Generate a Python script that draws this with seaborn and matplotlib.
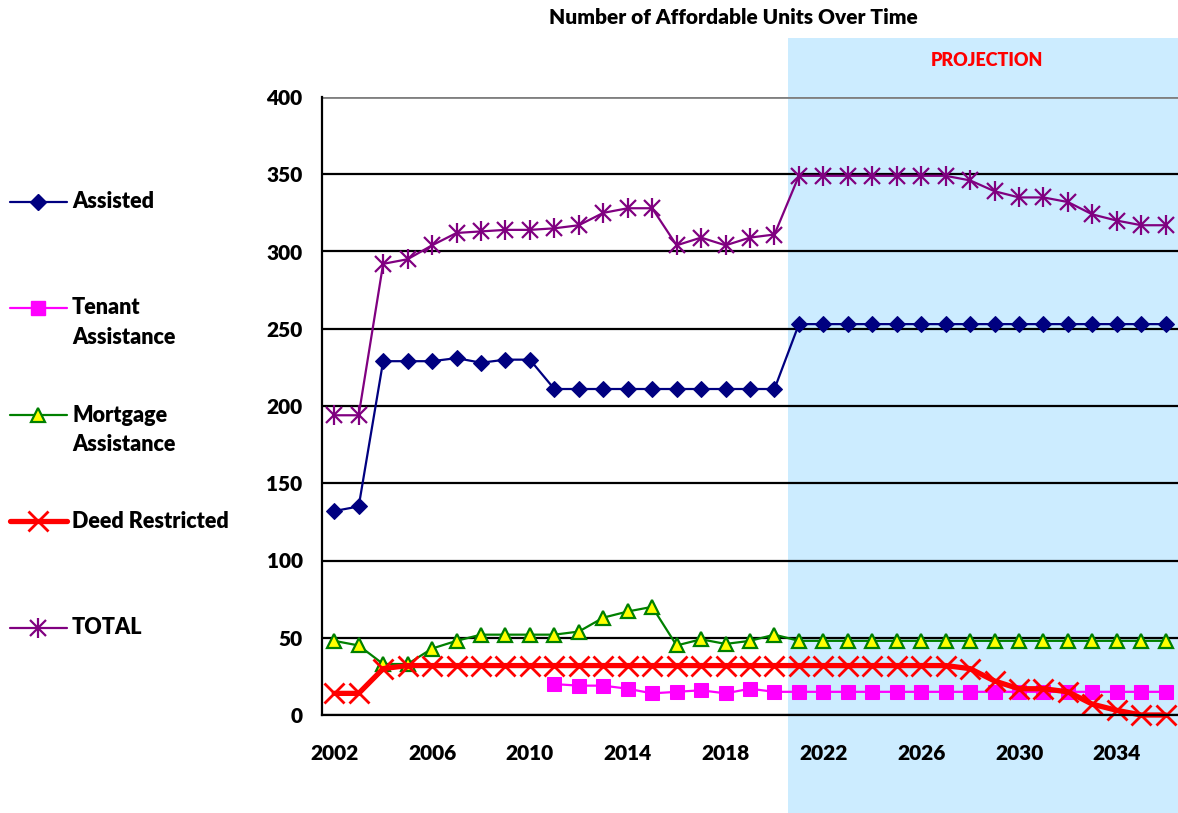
"""
Number of Affordable Units Over Time - line chart with projection band.
"""

import numpy as np
import pandas as pd
import seaborn as sns
import matplotlib.pyplot as plt
from matplotlib.lines import Line2D

years = list(range(2002, 2037))

assisted = [132, 135, 229, 229, 229, 231, 228, 230, 230, 211,
            211, 211, 211, 211, 211, 211, 211, 211, 211, 253,
            253, 253, 253, 253, 253, 253, 253, 253, 253, 253,
            253, 253, 253, 253, 253]
tenant = [np.nan, np.nan, np.nan, np.nan, np.nan, np.nan, np.nan, np.nan, np.nan, 20,
          19, 19, 17, 14, 15, 16, 14, 17, 15, 15,
          15, 15, 15, 15, 15, 15, 15, 15, 15, 15,
          15, 15, 15, 15, 15]
mortgage = [48, 45, 33, 33, 43, 48, 52, 52, 52, 52,
            54, 63, 67, 70, 45, 49, 46, 48, 52, 48,
            48, 48, 48, 48, 48, 48, 48, 48, 48, 48,
            48, 48, 48, 48, 48]
deed = [14, 14, 30, 32, 32, 32, 32, 32, 32, 32,
        32, 32, 32, 32, 32, 32, 32, 32, 32, 32,
        32, 32, 32, 32, 32, 32, 30, 22, 17, 17,
        15, 7, 3, 0, 0]
total = [194, 194, 292, 295, 304, 312, 313, 314, 314, 315,
         317, 325, 328, 328, 304, 309, 304, 309, 311, 349,
         349, 349, 349, 349, 349, 349, 346, 339, 335, 335,
         332, 324, 320, 317, 317]

series_names = ["Assisted", "Tenant Assistance", "Mortgage Assistance", "Deed Restricted", "TOTAL"]
legend_labels = ["Assisted", "Tenant\nAssistance", "Mortgage\nAssistance", "Deed Restricted", "TOTAL"]
projection_start = 2021
yticks = [0, 50, 100, 150, 200, 250, 300, 350, 400]
xtick_years = [2002, 2006, 2010, 2014, 2018, 2022, 2026, 2030, 2034]

df = pd.DataFrame({
    "year": years,
    "Assisted": assisted,
    "Tenant Assistance": tenant,
    "Mortgage Assistance": mortgage,
    "Deed Restricted": deed,
    "TOTAL": total,
})
df["pos"] = np.arange(len(df))

styles = {
    "Assisted": dict(color="#000080", lw=1.6, marker="D", ms=8.5, mfc="#000080", mec="#000080"),
    "Tenant Assistance": dict(color="#FF00FF", lw=1.6, marker="s", ms=10, mfc="#FF00FF", mec="#FF00FF"),
    "Mortgage Assistance": dict(color="#008000", lw=1.6, marker="^", ms=10, mfc="#FFFF00", mec="#008000", mew=1.6),
    "Deed Restricted": dict(color="#FF0000", lw=3.8, marker="x", ms=14, mec="#FF0000", mew=2.0),
    "TOTAL": dict(color="#800080", lw=1.6, marker="x", ms=11, mec="#800080", mew=1.6),
}
FW = "heavy"

sns.set_theme(style="white")
plt.rcParams["font.family"] = ["Lato", "DejaVu Sans"]

W, H = 1178, 813
fig = plt.figure(figsize=(W / 100, H / 100), dpi=100)
ax = fig.add_axes([322 / W, (H - 715) / H, (W - 322) / W, 618 / H])

# projection band reaches beyond the plot area, up to the title area and down to the bottom
proj_pos = years.index(projection_start) - 0.45
ax.axvspan(proj_pos, len(years) + 1, ymin=-0.16, ymax=1.096, clip_on=False,
           color="#CCECFF", zorder=0, lw=0)

for name in series_names:
    st = styles[name]
    sns.lineplot(data=df, x="pos", y=name, ax=ax, zorder=3, clip_on=False, **st)
    if name == "TOTAL":
        sns.lineplot(data=df, x="pos", y=name, ax=ax, zorder=3, color=st["color"], lw=0,
                     marker="|", ms=14, mew=1.6, mec=st["color"], clip_on=False)

ax.set_xlim(-0.5, len(years) - 0.5)
ax.set_ylim(0, 400)
ax.set_xlabel("")
ax.set_ylabel("")

ax.set_yticks(yticks)
ax.set_yticklabels([str(v) for v in yticks], fontsize=15, fontweight=FW)
ax.set_xticks([years.index(y) for y in xtick_years])
ax.set_xticklabels([str(y) for y in xtick_years], fontsize=15, fontweight=FW)
ax.set_xticks(np.arange(-0.5, len(years), 1), minor=True)
ax.tick_params(axis="x", which="major", length=0, pad=21, colors="black")
ax.tick_params(axis="x", which="minor", length=8, width=1.5, direction="out", color="black")
ax.tick_params(axis="y", which="major", length=8, width=1.5, direction="out", pad=6, colors="black")

ax.grid(axis="y", color="black", lw=1.6, zorder=1)
ax.set_axisbelow(True)
gl = ax.get_ygridlines()
gl[-1].set_color("#808080")
gl[-1].set_linewidth(2)

ax.patch.set_alpha(0)
for side in ["top", "right"]:
    ax.spines[side].set_visible(False)
for side in ["left", "bottom"]:
    ax.spines[side].set_color("black")
    ax.spines[side].set_linewidth(1.6)
    ax.spines[side].set_zorder(4)

fig.text(733 / W, 1 - 17 / H, "Number of Affordable Units Over Time",
         ha="center", va="center", fontsize=15, fontweight=FW, color="black")
fig.text(987 / W, 1 - 61 / H, "PROJECTION", ha="center", va="center",
         fontsize=13, fontweight=FW, color="#FF0000")

# left-side legend, handle aligned with the first line of each label
legend_rows = [202, 308, 415, 521, 628]
for name, label, row in zip(series_names, legend_labels, legend_rows):
    st = styles[name]
    yf = 1 - row / H
    fig.add_artist(Line2D([10 / W, 38 / W, 67 / W], [yf, yf, yf], transform=fig.transFigure,
                          markevery=[1], **st))
    if name == "TOTAL":
        fig.add_artist(Line2D([38 / W], [yf], transform=fig.transFigure, lw=0,
                              marker="|", ms=14, mew=1.6, mec=st["color"]))
    for i, line in enumerate(label.split("\n")):
        fig.text(72 / W, 1 - (row + 29 * i) / H, line, ha="left", va="center",
                 fontsize=15.5, fontweight=FW, color="black")

fig.savefig("out.png", dpi=100)
